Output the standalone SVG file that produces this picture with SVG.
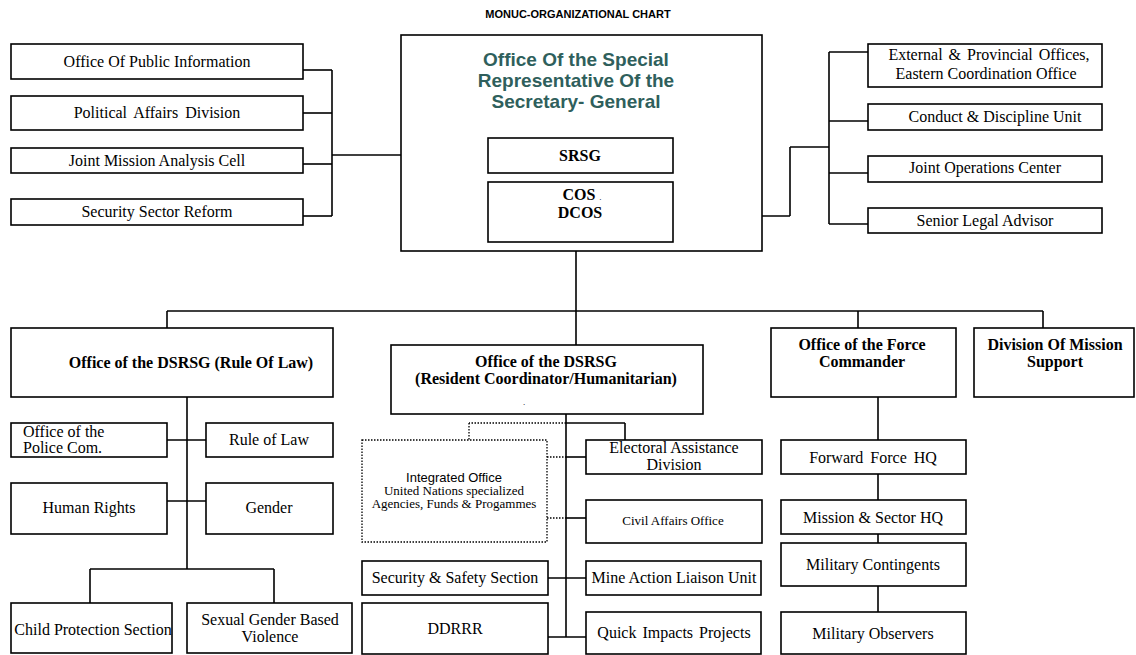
<svg xmlns="http://www.w3.org/2000/svg" width="1136" height="655" viewBox="0 0 1136 655">
<style>
rect{fill:#fff;stroke:#000;stroke-width:1.6}
rect.dot{stroke-dasharray:1.5 1.5;stroke-width:1.3}
.c line{stroke:#000;stroke-width:1.6}
.c line.d{stroke-dasharray:1.5 1.5;stroke-width:1.3}
text{font-family:"Liberation Serif","Times New Roman",serif;font-size:16px;text-anchor:middle;fill:#000}
.b{font-weight:bold;font-size:16px}
.s{font-family:"Liberation Sans",Arial,sans-serif}
.t{font-family:"Liberation Sans",Arial,sans-serif;font-weight:bold;font-size:19px;fill:#2F5F5C}
</style>
<rect width="1136" height="655" style="fill:#fff;stroke:none"/>
<text class="s" x="578" y="18" style="font-weight:bold;font-size:11px">MONUC-ORGANIZATIONAL CHART</text>

<g class="c" id="connectors">
<line x1="303" y1="70" x2="332" y2="70"/>
<line x1="303" y1="113" x2="332" y2="113"/>
<line x1="303" y1="164" x2="332" y2="164"/>
<line x1="303" y1="216" x2="332" y2="216"/>
<line x1="332" y1="70" x2="332" y2="216"/>
<line x1="332" y1="155" x2="488" y2="155"/>
<line x1="673" y1="216" x2="790" y2="216"/>
<line x1="790" y1="216" x2="790" y2="147"/>
<line x1="790" y1="147" x2="829" y2="147"/>
<line x1="829" y1="52" x2="829" y2="224"/>
<line x1="829" y1="52" x2="868" y2="52"/>
<line x1="829" y1="121" x2="868" y2="121"/>
<line x1="829" y1="173" x2="868" y2="173"/>
<line x1="829" y1="224" x2="868" y2="224"/>
<line x1="576" y1="251" x2="576" y2="311"/>
<line x1="167" y1="311" x2="1043" y2="311"/>
<line x1="167" y1="311" x2="167" y2="328"/>
<line x1="576" y1="311" x2="576" y2="345"/>
<line x1="858" y1="311" x2="858" y2="328"/>
<line x1="1043" y1="311" x2="1043" y2="328"/>
<line x1="187" y1="397" x2="187" y2="569"/>
<line x1="167" y1="440" x2="206" y2="440"/>
<line x1="167" y1="501" x2="206" y2="501"/>
<line x1="90" y1="569" x2="274" y2="569"/>
<line x1="90" y1="569" x2="90" y2="603"/>
<line x1="274" y1="569" x2="274" y2="603"/>
<line x1="566" y1="414" x2="566" y2="637"/>
<line x1="566" y1="423" x2="625" y2="423"/>
<line x1="625" y1="423" x2="625" y2="440"/>
<line class="d" x1="566" y1="423" x2="469" y2="423"/>
<line class="d" x1="469" y1="423" x2="469" y2="440"/>
<line x1="566" y1="457" x2="586" y2="457"/>
<line class="d" x1="547" y1="457" x2="566" y2="457"/>
<line x1="566" y1="518" x2="586" y2="518"/>
<line class="d" x1="547" y1="518" x2="566" y2="518"/>
<line x1="548" y1="578" x2="586" y2="578"/>
<line x1="548" y1="637" x2="586" y2="637"/>
<line x1="878" y1="397" x2="878" y2="440"/>
<line x1="878" y1="474" x2="878" y2="500"/>
<line x1="878" y1="534" x2="878" y2="543"/>
<line x1="878" y1="586" x2="878" y2="612"/>
</g>

<g id="n-opi"><rect x="11" y="44" width="292" height="35"/><text x="157" y="67">Office Of Public Information</text></g>
<g id="n-pad"><rect x="11" y="96" width="292" height="34"/><text x="157" y="118" style="word-spacing:3px">Political Affairs Division</text></g>
<g id="n-jmac"><rect x="11" y="148" width="292" height="25"/><text x="157" y="166">Joint Mission Analysis Cell</text></g>
<g id="n-ssr"><rect x="11" y="199" width="292" height="26"/><text x="157" y="217">Security Sector Reform</text></g>

<g id="n-osrsg"><rect x="401" y="35" width="361" height="216"/>
<text class="t" x="576" y="66">Office Of the Special</text>
<text class="t" x="576" y="87">Representative Of the</text>
<text class="t" x="576" y="108">Secretary- General</text></g>
<g id="n-srsg"><rect x="488" y="138" width="185" height="35"/><text class="b" x="580" y="161">SRSG</text></g>
<g id="n-cos"><rect x="488" y="182" width="185" height="60"/><text class="b" x="582" y="200">COS <tspan style="font-weight:normal;font-size:9px">.</tspan></text><text class="b" x="580" y="218">DCOS</text></g>

<g id="n-ext"><rect x="868" y="44" width="234" height="43"/><text x="989" y="60" style="word-spacing:2px">External &amp;  Provincial Offices,</text><text x="986" y="79">Eastern Coordination Office</text></g>
<g id="n-cdu"><rect x="868" y="104" width="234" height="26"/><text x="995" y="122">Conduct &amp; Discipline Unit</text></g>
<g id="n-joc"><rect x="868" y="156" width="234" height="26"/><text x="985" y="173">Joint Operations Center</text></g>
<g id="n-sla"><rect x="868" y="208" width="234" height="25"/><text x="985" y="226">Senior Legal Advisor</text></g>

<g id="n-rol"><rect x="11" y="328" width="322" height="69"/><text class="b" x="191" y="368">Office of the DSRSG (Rule Of Law)</text></g>
<g id="n-police"><rect x="11" y="423" width="156" height="34"/><text x="23" y="437" style="text-anchor:start">Office of the</text><text x="23" y="453" style="text-anchor:start">Police Com.</text></g>
<g id="n-rule"><rect x="206" y="423" width="127" height="34"/><text x="269" y="445">Rule of Law</text></g>
<g id="n-hr"><rect x="11" y="483" width="156" height="51"/><text x="89" y="513">Human Rights</text></g>
<g id="n-gender"><rect x="206" y="483" width="127" height="51"/><text x="269" y="513">Gender</text></g>
<g id="n-cps"><rect x="11" y="603" width="161" height="50"/><text x="93" y="635">Child Protection Section</text></g>
<g id="n-sgbv"><rect x="187" y="603" width="165" height="50"/><text x="270" y="625">Sexual Gender Based</text><text x="270" y="642">Violence</text></g>

<g id="n-rc"><rect x="391" y="345" width="312" height="69"/><text class="b" x="546" y="367">Office of the DSRSG</text><text class="b" x="546" y="384">(Resident Coordinator/Humanitarian)</text><text x="524" y="405" style="font-size:9px">.</text></g>
<g id="n-io"><rect class="dot" x="362" y="440" width="185" height="102"/>
<text class="s" x="454" y="482" style="font-size:13px">Integrated Office</text>
<text x="454" y="495" style="font-size:13px">United Nations specialized</text>
<text x="454" y="508" style="font-size:13px">Agencies, Funds &amp; Progammes</text></g>
<g id="n-ead"><rect x="586" y="440" width="176" height="34"/><text x="674" y="453">Electoral Assistance</text><text x="674" y="470">Division</text></g>
<g id="n-cao"><rect x="586" y="500" width="176" height="43"/><text x="673" y="525" style="font-size:13px">Civil  Affairs Office</text></g>
<g id="n-sss"><rect x="362" y="561" width="186" height="34"/><text x="455" y="583">Security &amp; Safety Section</text></g>
<g id="n-malu"><rect x="586" y="561" width="175" height="34"/><text x="674" y="583">Mine Action Liaison Unit</text></g>
<g id="n-ddrrr"><rect x="362" y="603" width="186" height="51"/><text x="455" y="634">DDRRR</text></g>
<g id="n-qip"><rect x="586" y="612" width="175" height="42"/><text x="674" y="638" style="word-spacing:2px">Quick Impacts Projects</text></g>

<g id="n-fc"><rect x="771" y="328" width="185" height="69"/><text class="b" x="862" y="350">Office of the Force</text><text class="b" x="862" y="367">Commander</text></g>
<g id="n-dms"><rect x="974" y="328" width="160" height="69"/><text class="b" x="1055" y="350">Division Of Mission</text><text class="b" x="1055" y="367">Support</text></g>
<g id="n-ffhq"><rect x="781" y="440" width="185" height="34"/><text x="873" y="463" style="word-spacing:3px">Forward Force HQ</text></g>
<g id="n-mshq"><rect x="781" y="500" width="185" height="34"/><text x="873" y="523">Mission &amp; Sector HQ</text></g>
<g id="n-mc"><rect x="781" y="543" width="185" height="43"/><text x="873" y="570">Military Contingents</text></g>
<g id="n-mo"><rect x="781" y="612" width="185" height="42"/><text x="873" y="639">Military Observers</text></g>
</svg>
